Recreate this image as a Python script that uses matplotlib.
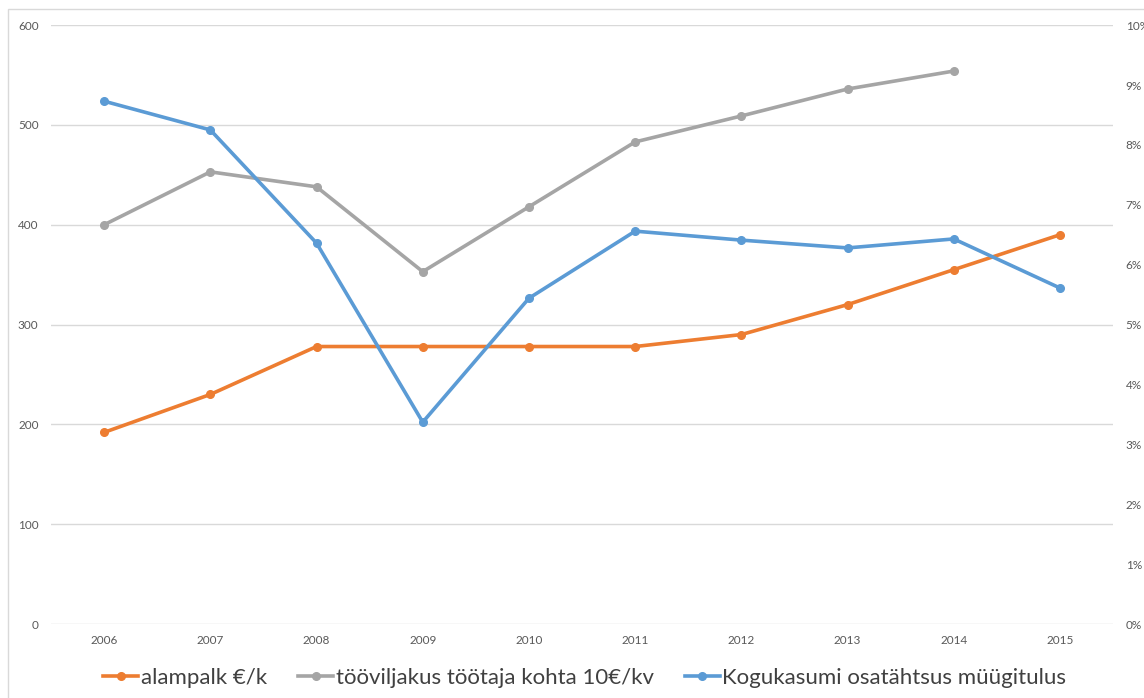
import matplotlib.pyplot as plt
from matplotlib.patches import Rectangle
from matplotlib.ticker import FuncFormatter

years = ['2006', '2007', '2008', '2009', '2010', '2011', '2012', '2013', '2014', '2015']
alampalk = [192, 230, 278, 278, 278, 278, 290, 320, 355, 390]
tooviljakus = [400, 453, 438, 353, 418, 483, 509, 536, 554, None]
kogukasum = [8.73, 8.25, 6.36, 3.37, 5.44, 6.56, 6.41, 6.28, 6.43, 5.61]

plt.rcParams['font.family'] = ['Lato', 'DejaVu Sans']

fig = plt.figure(figsize=(11.44, 6.98), dpi=100)
ax = fig.add_axes([0.0446, 0.106, 0.9284, 0.858])
ax2 = ax.twinx()

x = list(range(len(years)))
gx = [i for i, v in zip(x, tooviljakus) if v is not None]
gy = [v for v in tooviljakus if v is not None]

l1, = ax.plot(x, alampalk, color='#ED7D31', lw=2.6, marker='o', ms=5.5,
              label='alampalk €/k', zorder=3)
l2, = ax.plot(gx, gy, color='#A5A5A5', lw=2.6, marker='o', ms=5.5,
              label='tööviljakus töötaja kohta 10€/kv', zorder=2)
l3, = ax2.plot(x, kogukasum, color='#5B9BD5', lw=2.6, marker='o', ms=5.5,
               label='Kogukasumi osatähtsus müügitulus', zorder=3)

ax.set_xlim(-0.5, 9.5)
ax.set_ylim(0, 600)
ax2.set_ylim(0, 10)
ax.set_yticks(range(0, 601, 100))
ax2.set_yticks(range(0, 11))
ax2.yaxis.set_major_formatter(FuncFormatter(lambda v, p: f'{int(v)}%'))
ax.set_xticks(x)
ax.set_xticklabels(years)

ax.grid(axis='y', color='#D9D9D9', lw=1)
ax.set_axisbelow(True)
for a in (ax, ax2):
    for s in a.spines.values():
        s.set_visible(False)
    a.tick_params(length=0, labelsize=8.5, labelcolor='#595959')
ax.tick_params(axis='y', pad=9)
ax.tick_params(axis='x', pad=8)
ax2.tick_params(axis='y', pad=9)

fig.legend(handles=[l1, l2, l3], loc='center', bbox_to_anchor=(0.511, 0.0287),
           ncol=3, frameon=False, fontsize=16, handlelength=1.6, handletextpad=0.1,
           columnspacing=1.4, labelcolor='#404040')

fig.patches.append(Rectangle((8 / 1144, -0.05), 1.1, 1 - 9 / 698 + 0.05,
                             transform=fig.transFigure, fill=False,
                             edgecolor='#D9D9D9', lw=1))

fig.savefig('out.png', dpi=100)
